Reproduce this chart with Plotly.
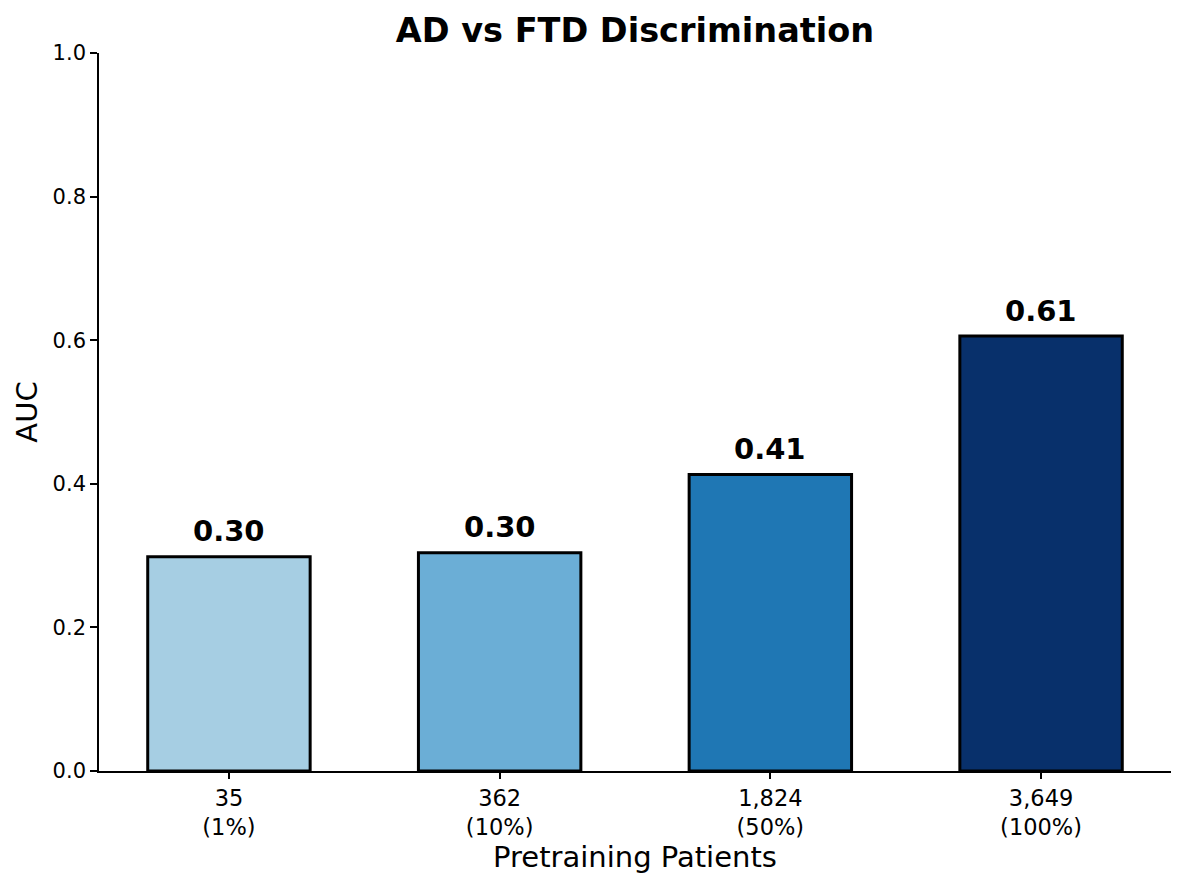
import plotly.graph_objects as go

categories = ["35<br>(1%)", "362<br>(10%)", "1,824<br>(50%)", "3,649<br>(100%)"]
auc_values = [0.2985, 0.304, 0.413, 0.606]
bar_colors = ["#a6cee3", "#6baed6", "#1f77b4", "#08306b"]
y_ticks = [0.0, 0.2, 0.4, 0.6, 0.8, 1.0]

FONT = "DejaVu Sans"
x_idx = list(range(len(categories)))

fig = go.Figure()
fig.add_trace(go.Bar(
    x=x_idx, y=auc_values, width=0.6,
    marker=dict(color=bar_colors, line=dict(color="black", width=3)),
    hoverinfo="skip",
))

for xi, v in zip(x_idx, auc_values):
    fig.add_annotation(
        x=xi, y=v + 0.02, xref="x", yref="y",
        text=f"<b>{v:.2f}</b>", showarrow=False,
        yanchor="bottom", xanchor="center", yshift=-8,
        font=dict(family=FONT, size=29, color="black"),
    )

fig.update_layout(
    width=1184, height=887,
    margin=dict(l=91, r=21, t=45, b=124),
    paper_bgcolor="white", plot_bgcolor="white",
    showlegend=False,
    font=dict(family=FONT, color="black"),
    title=dict(
        text="<b>AD vs FTD Discrimination</b>",
        x=0.5, xref="paper", xanchor="center",
        y=1 - 22 / 887, yref="container", yanchor="middle",
        font=dict(family=FONT, size=33.5, color="black"),
    ),
    xaxis=dict(
        range=[-0.48, 3.48],
        tickmode="array", tickvals=x_idx, ticktext=categories,
        ticks="outside", ticklen=6, tickwidth=1.6, tickcolor="black",
        showline=True, linecolor="black", linewidth=1.6,
        showgrid=False, zeroline=False,
        tickfont=dict(family=FONT, size=22.5, color="black"),
        title=dict(text="Pretraining Patients", standoff=8,
                   font=dict(family=FONT, size=29, color="black")),
    ),
    yaxis=dict(
        range=[0, 1.0],
        tickmode="array", tickvals=y_ticks,
        ticktext=[f"{t:.1f}" for t in y_ticks],
        ticks="outside", ticklen=7, tickwidth=1.6, tickcolor="black",
        showline=True, linecolor="black", linewidth=1.6,
        showgrid=False, zeroline=False,
        tickfont=dict(family=FONT, size=21, color="black"),
        title=dict(text="AUC", standoff=6,
                   font=dict(family=FONT, size=29, color="black")),
    ),
)

fig.write_html("out.html")
